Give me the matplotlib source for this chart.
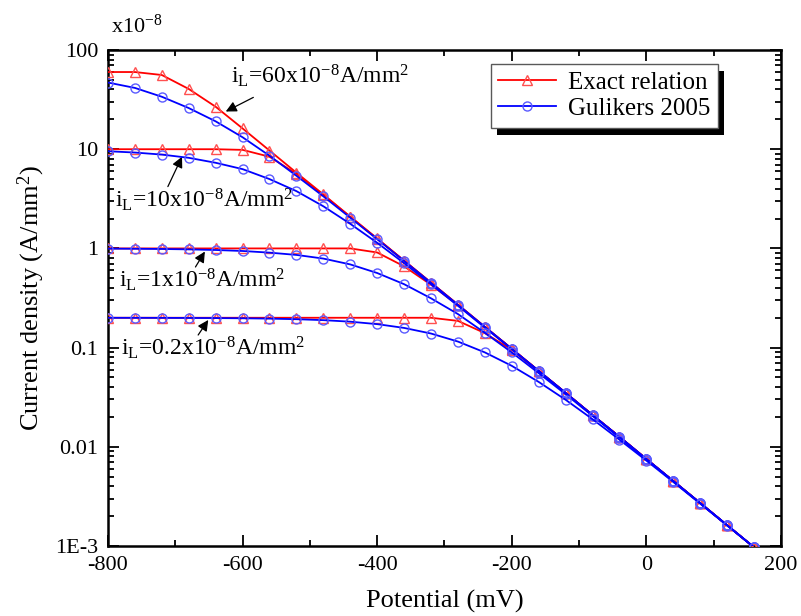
import matplotlib
matplotlib.use('Agg')
import matplotlib.pyplot as plt
from matplotlib.patches import Rectangle
from matplotlib.ticker import MultipleLocator, LogLocator, NullFormatter
from matplotlib.transforms import IdentityTransform

plt.rcParams['font.family'] = ['Liberation Serif', 'DejaVu Serif']
plt.rcParams['mathtext.fontset'] = 'custom'
plt.rcParams['mathtext.rm'] = 'Liberation Serif'
plt.rcParams['mathtext.it'] = 'Liberation Serif:italic'
plt.rcParams['axes.unicode_minus'] = False

# potential (mV), markers every 40 mV
potential = [-800, -760, -720, -680, -640, -600, -560, -520, -480, -440, -400, -360, -320,
             -280, -240, -200, -160, -120, -80, -40, 0, 40, 80, 120, 160]

# current density, x10^-8 A/mm^2 ("Exact relation")
exact_60 = [60, 60, 56, 40.5, 26.8, 16.2, 9.7, 5.8, 3.5, 2.09, 1.26, 0.753, 0.452,
            0.271, 0.162, 0.0973, 0.0583, 0.0350, 0.0209, 0.0126, 0.00753, 0.00452, 0.00271, 0.00162, 0.00097]
exact_10 = [10, 10, 10, 10, 10, 9.85, 8.4, 5.65, 3.45, 2.08, 1.25, 0.752, 0.452,
            0.271, 0.162, 0.0973, 0.0583, 0.0350, 0.0209, 0.0126, 0.00753, 0.00452, 0.00271, 0.00162, 0.00097]
exact_1 = [1, 1, 1, 1, 1, 1, 1, 1, 1, 1.0, 0.91, 0.66, 0.43,
           0.268, 0.161, 0.0970, 0.0582, 0.0350, 0.0209, 0.0126, 0.00753, 0.00452, 0.00271, 0.00162, 0.00097]
exact_02 = [0.2, 0.2, 0.2, 0.2, 0.2, 0.2, 0.2, 0.2, 0.2, 0.2, 0.2, 0.2, 0.2,
            0.186, 0.14, 0.095, 0.0578, 0.0349, 0.0209, 0.0126, 0.00752, 0.00452, 0.00271, 0.00162, 0.00097]

# current density, x10^-8 A/mm^2 ("Gulikers 2005")
gul_60 = [47, 41.5, 33.8, 26, 19.1, 13.2, 8.6, 5.4, 3.35, 2.04, 1.24, 0.748, 0.450,
          0.270, 0.162, 0.0972, 0.0583, 0.0350, 0.0209, 0.0126, 0.00753, 0.00452, 0.00271, 0.00162, 0.00097]
gul_10 = [9.54, 9.26, 8.83, 8.19, 7.30, 6.3, 5.0, 3.78, 2.66, 1.77, 1.14, 0.71, 0.435,
          0.264, 0.159, 0.0964, 0.0580, 0.0349, 0.0209, 0.0126, 0.00752, 0.00452, 0.00271, 0.00162, 0.00097]
gul_1 = [0.995, 0.992, 0.987, 0.978, 0.964, 0.942, 0.907, 0.86, 0.79, 0.69, 0.565, 0.436, 0.314,
         0.218, 0.141, 0.0895, 0.0553, 0.0339, 0.0205, 0.0124, 0.00747, 0.00450, 0.00270, 0.00162, 0.00097]
gul_02 = [0.1998, 0.1997, 0.1995, 0.1991, 0.1985, 0.1976, 0.196, 0.1934, 0.1892, 0.1826, 0.1725, 0.158, 0.1387,
          0.1151, 0.0895, 0.0655, 0.0451, 0.0298, 0.0190, 0.0118, 0.00726, 0.00442, 0.00267, 0.00161, 0.00097]

exact_series = [exact_60, exact_10, exact_1, exact_02]
gul_series = [gul_60, gul_10, gul_1, gul_02]

ytick_vals = [1e-3, 1e-2, 1e-1, 1, 10, 100]
ytick_labels = ['1E-3', '0.01', '0.1', '1', '10', '100']
xtick_vals = [-800, -600, -400, -200, 0, 200]

fig = plt.figure(figsize=(8.01, 6.16), dpi=100)
ax = fig.add_axes([0.1348, 0.1136, 0.8402, 0.8052])

for i, s in enumerate(exact_series):
    ax.plot(potential, s, color='r', lw=1.3, marker='^', ms=7.5, mfc='none', mec='#ff5050',
            mew=1.0, label='Exact relation' if i == 0 else None, zorder=3)
for i, s in enumerate(gul_series):
    ax.plot(potential, s, color='b', lw=1.3, marker='o', ms=6.5, mfc='none', mec='#5a5aff',
            mew=1.0, label='Gulikers 2005' if i == 0 else None, zorder=4)

ax.set_yscale('log')
ax.set_xlim(-800, 200)
ax.set_ylim(1e-3, 100)
ax.set_xticks(xtick_vals)
ax.xaxis.set_minor_locator(MultipleLocator(100))
ax.set_yticks(ytick_vals, ytick_labels)
ax.yaxis.set_minor_locator(LogLocator(base=10, subs=range(2, 10)))
ax.yaxis.set_minor_formatter(NullFormatter())
ax.tick_params(which='both', direction='in', top=True, right=True, width=1.3, labelsize=16)
ax.tick_params(which='major', length=8, pad=7)
ax.tick_params(which='minor', length=4.5)
for sp in ax.spines.values():
    sp.set_linewidth(1.8)

ax.set_xlabel('Potential (mV)', fontsize=19, labelpad=11)
ax.set_ylabel('Current density (A/mm$^2$)', fontsize=19, labelpad=6)
ax.text(0.005, 1.025, 'x10$^{-8}$', transform=ax.transAxes, fontsize=16, ha='left', va='bottom')

# annotations
arrow = dict(arrowstyle='-|>', color='k', lw=0.9, mutation_scale=16, shrinkA=0, shrinkB=0)
ax.annotate('', xy=(-625, 24), xytext=(-584, 33.3), arrowprops=arrow)
ax.text(-617, 46, 'i$_\\mathrm{L}$=60x10$^{-8}$A/mm$^2$', fontsize=17, ha='left', va='baseline')
ax.annotate('', xy=(-690, 8.4), xytext=(-711, 4.2), arrowprops=arrow)
ax.text(-790, 2.6, 'i$_\\mathrm{L}$=10x10$^{-8}$A/mm$^2$', fontsize=17, ha='left', va='baseline')
ax.annotate('', xy=(-656, 0.93), xytext=(-670, 0.65), arrowprops=arrow)
ax.text(-783, 0.41, 'i$_\\mathrm{L}$=1x10$^{-8}$A/mm$^2$', fontsize=17, ha='left', va='baseline')
ax.annotate('', xy=(-651, 0.19), xytext=(-666, 0.134), arrowprops=arrow)
ax.text(-780, 0.083, 'i$_\\mathrm{L}$=0.2x10$^{-8}$A/mm$^2$', fontsize=17, ha='left', va='baseline')

leg = ax.legend(loc='upper left', bbox_to_anchor=(0.569, 0.972), borderaxespad=0,
                fontsize=18, fancybox=False, framealpha=1, edgecolor='0.35',
                handlelength=2.3, numpoints=1, borderpad=0.3, labelspacing=0.15,
                handletextpad=0.5)
leg.get_frame().set_linewidth(1.0)

# black drop shadow behind the legend box
fig.canvas.draw()
bb = leg.get_frame().get_window_extent()
shadow = Rectangle((bb.x0 + 6, bb.y0 - 7), bb.width, bb.height, transform=IdentityTransform(),
                   facecolor='k', edgecolor='none', zorder=4.9, clip_on=False)
ax.add_artist(shadow)

fig.savefig('out.png', dpi=100)
